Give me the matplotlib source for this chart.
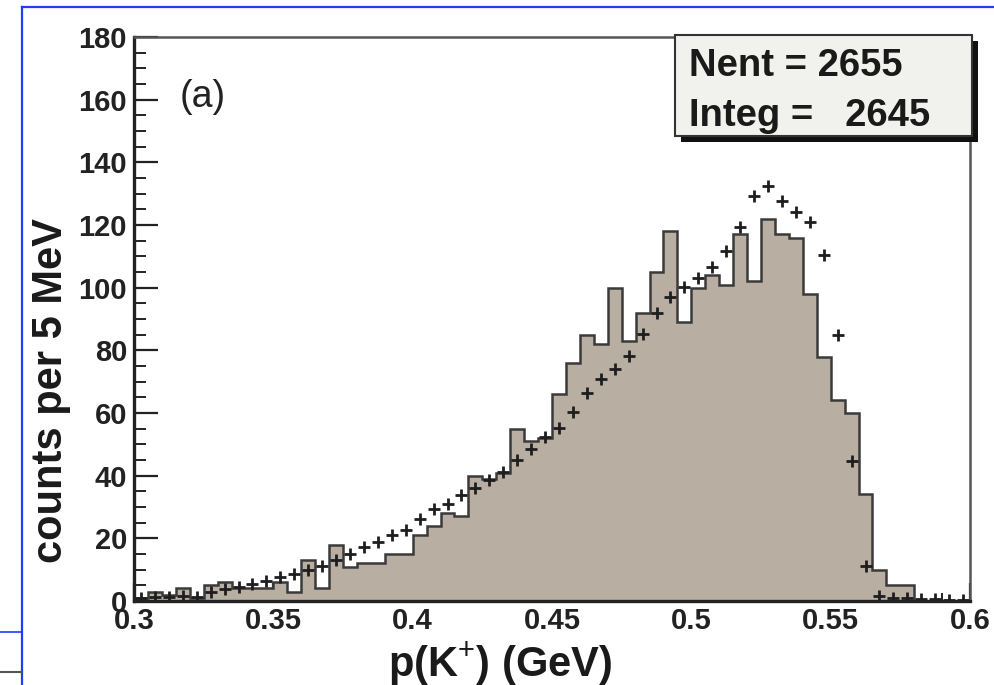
import numpy as np
import matplotlib
matplotlib.use("Agg")
import matplotlib.pyplot as plt
from matplotlib.patches import Rectangle
from matplotlib.lines import Line2D
from matplotlib.ticker import MultipleLocator, FixedLocator

plt.rcParams['font.family'] = ['Liberation Sans', 'DejaVu Sans']
plt.rcParams['mathtext.fontset'] = 'custom'
plt.rcParams['mathtext.rm'] = 'Liberation Sans'
plt.rcParams['mathtext.bf'] = 'Liberation Sans:bold'

# Kaon momentum spectrum, 5 MeV bins from 0.30 to 0.60 GeV
bin_lo, bin_hi, n_bins = 0.30, 0.60, 60
data_counts = [1, 3, 2, 4, 1, 5, 6, 4, 4, 4,
               6, 3, 13, 4, 18, 11, 12, 12, 15, 15,
               21, 24, 28, 27, 40, 39, 41, 55, 51, 52,
               66, 76, 85, 82, 100, 83, 92, 105, 118, 89,
               100, 104, 101, 117, 102, 122, 117, 116, 98, 78,
               64, 60, 34, 10, 5, 5, 0, 0, 0, 0]
# Simulated spectrum (crosses)
mc_counts = [1.0, 1.2, 1.2, 1.6, 1.2, 3.0, 3.8, 4.4, 5.4, 6.5,
             7.8, 8.6, 9.9, 11.2, 13.1, 15.0, 17.1, 18.9, 21.0, 22.6,
             26.3, 29.5, 31.1, 33.8, 36.2, 38.5, 41.2, 44.9, 48.6, 52.5,
             55.2, 60.3, 66.3, 70.9, 73.9, 78.3, 85.2, 91.9, 96.9, 100.3,
             103.1, 106.6, 111.6, 119.4, 129.3, 132.5, 127.7, 124.0, 121.1, 110.5,
             85.0, 44.7, 11.2, 1.5, 1.0, 0.8, 0.6, 0.5, 0.4, 0.3]
x_ticks = [0.30, 0.35, 0.40, 0.45, 0.50, 0.55, 0.60]
x_ticklabels = ["0.3", "0.35", "0.4", "0.45", "0.5", "0.55", "0.6"]
y_ticks = [0, 20, 40, 60, 80, 100, 120, 140, 160, 180]
stats_lines = ["Nent = 2655", "Integ =   2645"]

W, H = 994, 685
fig = plt.figure(figsize=(W / 100, H / 100), dpi=100)
fig.patch.set_facecolor("white")

def fx(px):
    return px / W

def fy(py):
    return 1 - py / H

ax = fig.add_axes([fx(134), fy(601), fx(970) - fx(134), fy(37) - fy(601)])
ax.set_xlim(bin_lo, bin_hi)
ax.set_ylim(0, 180)

edges = np.linspace(bin_lo, bin_hi, n_bins + 1)
centers = 0.5 * (edges[:-1] + edges[1:])
fill_col = "#b9aea2"
line_col = "#3a3a3a"
ax.stairs(data_counts, edges, fill=True, color=fill_col, zorder=2)
ax.stairs(data_counts, edges, color=line_col, lw=1.8, baseline=0, zorder=3)
ax.plot(centers, mc_counts, linestyle="none", marker="+", ms=8.5, mew=2.0,
        color="#1e1e1e", zorder=4)

# frame: heavy left/bottom, lighter top/right
for side in ("left", "bottom"):
    ax.spines[side].set_linewidth(2.4)
    ax.spines[side].set_color("#222222")
for side in ("top", "right"):
    ax.spines[side].set_linewidth(1.8)
    ax.spines[side].set_color("#555555")
for sp in ax.spines.values():
    sp.set_zorder(5)

ax.xaxis.set_major_locator(FixedLocator(x_ticks))
ax.set_xticklabels(x_ticklabels)
ax.xaxis.set_minor_locator(MultipleLocator(0.01))
ax.yaxis.set_major_locator(FixedLocator(y_ticks))
ax.yaxis.set_minor_locator(MultipleLocator(5))

ax.tick_params(axis="both", which="both", direction="in", top=False, right=False,
               colors="#222222", labelcolor="#222222")
ax.xaxis.set_tick_params(which="major", length=13, width=1.6, pad=4)
ax.xaxis.set_tick_params(which="minor", length=6, width=1.4)
ax.yaxis.set_tick_params(which="major", length=17, width=1.6, pad=5)
ax.yaxis.set_tick_params(which="minor", length=8.5, width=1.4)
for lab in ax.get_xticklabels() + ax.get_yticklabels():
    lab.set_fontsize(21)
    lab.set_fontweight("bold")

ax.text(fx(203), fy(97), "(a)", transform=fig.transFigure, fontsize=27,
        ha="center", va="center", color="#222222")

# axis titles
fig.text(fx(51), fy(391), "counts per 5 MeV", rotation=90, fontsize=30,
         fontweight="bold", ha="center", va="center", color="#1a1a1a")
fig.text(fx(500), fy(676), r"p(K$^{+}$) (GeV)", fontsize=30, fontweight="bold",
         ha="center", va="baseline", color="#1a1a1a")

# statistics box with drop shadow
bx0, by0, bx1, by1 = 675, 35, 972, 136
sh = 6
fig.add_artist(Rectangle((fx(bx0 + sh), fy(by1 + sh)), fx(bx1 - bx0), fy(by0) - fy(by1),
                         transform=fig.transFigure, facecolor="#111111",
                         edgecolor="none", zorder=6))
fig.add_artist(Rectangle((fx(bx0), fy(by1)), fx(bx1 - bx0), fy(by0) - fy(by1),
                         transform=fig.transFigure, facecolor="#f1f1ee",
                         edgecolor="#333333", lw=1.5, zorder=7))
for i, s in enumerate(stats_lines):
    fig.text(fx(689), fy(66 + 50 * i), s, fontsize=27.5, fontweight="bold",
             ha="left", va="center", color="#1a1a1a", zorder=8)

# slide frame around the figure
blue = "#1f3cff"
fig.add_artist(Line2D([fx(22), fx(22)], [fy(7), 0], transform=fig.transFigure,
                      color=blue, lw=1.6))
fig.add_artist(Line2D([fx(22), 1], [fy(7), fy(7)], transform=fig.transFigure,
                      color=blue, lw=1.6))
fig.add_artist(Line2D([0, fx(22)], [fy(632), fy(632)], transform=fig.transFigure,
                      color=blue, lw=1.2))
fig.add_artist(Line2D([0, fx(22)], [fy(672), fy(672)], transform=fig.transFigure,
                      color="#555555", lw=1.5))

fig.savefig("out.png", dpi=100)
